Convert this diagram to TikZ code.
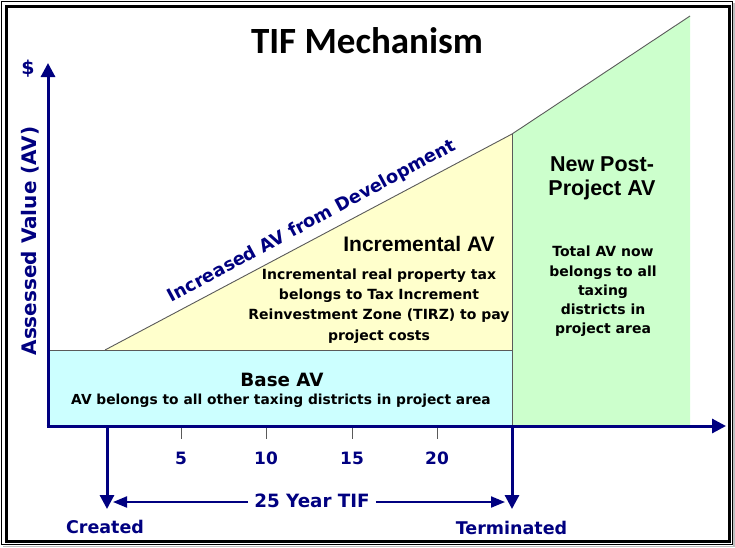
\documentclass[tikz,border=0pt]{standalone}
\usepackage{fontspec}
\setmainfont{DejaVu Sans}
\newfontfamily\arifont{Liberation Sans}
\newfontfamily\calfont{Carlito}
\usetikzlibrary{arrows.meta}
\definecolor{navyc}{RGB}{0,0,128}
\definecolor{basec}{RGB}{204,255,255}
\definecolor{incc}{RGB}{255,255,204}
\definecolor{newc}{RGB}{204,255,204}
\definecolor{edgec}{RGB}{90,90,90}
\newcommand{\fsz}[2]{\fontsize{#1}{#2}\selectfont}
\begin{document}
\begin{tikzpicture}[x=1pt,y=-1pt,
  axis/.style={draw=navyc, line width=3pt},
  bigtip/.style={-{Triangle[width=14pt,length=14pt]}},
  smalltip/.style={-{Triangle[width=11pt,length=14pt]}},
  edge/.style={draw=edgec, line width=0.9pt},
  tick/.style={draw=edgec, line width=1pt},
  navytext/.style={text=navyc, font=\bfseries\fsz{17.5}{20}, inner sep=0pt},
  numtext/.style={text=navyc, font=\bfseries\fsz{17}{18}, inner sep=0pt, anchor=base},
  regtitle/.style={text=black, font=\arifont\bfseries\fsz{21}{24}, inner sep=0pt, align=center},
  regbody/.style={text=black, font=\bfseries\fsz{14}{20.2}, inner sep=0pt, align=center},
]
\useasboundingbox (0,0) rectangle (735,547);
% frame
\fill[white] (0,0) rectangle (735,547);
\fill[black!25] (733,3) rectangle (735,547);
\fill[black!25] (3,545.5) rectangle (735,547);
\draw[black, line width=1pt] (1.5,1.5) rectangle (732.5,544.5);
\draw[black, line width=3pt] (6,6) rectangle (729.5,541);

% coordinates
\coordinate (O) at (48,426);
\coordinate (ytop) at (48,63);
\coordinate (xend) at (726,426);
\coordinate (start) at (105,350);
\coordinate (term) at (512,134);
\coordinate (peak) at (690,16);
\coordinate (cr0) at (107,426);
\coordinate (cr1) at (107,509);
\coordinate (te0) at (512,426);
\coordinate (te1) at (512,509);
\coordinate (la) at (113,502);
\coordinate (ra) at (505,502);

% regions
\fill[basec] (48,350) rectangle (512,426);
\fill[incc] (start) -- (term) -- (512,350) -- cycle;
\fill[newc] (term) -- (peak) -- (690,426) -- (te0) -- cycle;
\draw[edge] (48,350) -- (512,350);
\draw[edge] (term) -- (te0);
\draw[edge] (start) -- (term) -- (peak);

% ticks
\foreach \x/\n in {181/5,266/10,352/15,437/20}{
  \draw[tick] (\x,426) -- (\x,439);
  \node[numtext] (n\n) at (\x,464) {\n};
}

% axes
\draw[axis, bigtip] (48,427.5) -- (ytop);
\draw[axis, bigtip] (46.5,426) -- (xend);
\draw[axis, bigtip] (cr0) -- (cr1);
\draw[axis, bigtip] (te0) -- (te1);

% texts
\node[font=\calfont\bfseries\fsz{37}{40}, inner sep=0pt, anchor=base] (title) at (367,53.3) {TIF Mechanism};
\node[navytext, font=\bfseries\fsz{19}{20}] (dollar) at (28,68.5) {\$};
\node[navytext, font=\bfseries\fsz{20}{22}, rotate=90, anchor=base] (yl) at (36,241) {Assessed Value (AV)};
\node[text=navyc, font=\bfseries\fsz{17.8}{22}, inner sep=0pt, rotate=28.3] (slant) at (312,221.5) {Increased AV from Development};

\node[regtitle] (inctitle) at (419,244) {Incremental AV};
\node[regbody] (incbody) at (379,306) {Incremental real property tax\\belongs to Tax Increment\\Reinvestment Zone (TIRZ) to pay\\project costs};
\node[regtitle, font=\arifont\bfseries\fsz{21.5}{24}] (newtitle) at (602,178.5) {New Post-\\Project AV};
\node[regbody, font=\bfseries\fsz{14}{19.25}] (newbody) at (603,291.5) {Total AV now\\belongs to all\\taxing\\districts in\\project area};
\node[font=\bfseries\fsz{18.3}{20}, inner sep=0pt, anchor=base] (basetitle) at (282,386) {Base AV};
\node[font=\bfseries\fsz{13.8}{16}, inner sep=0pt, anchor=base] (basebody) at (281,404.7) {AV belongs to all other taxing districts in project area};

\node[navytext, anchor=base, font=\bfseries\fsz{18.3}{20}, inner sep=0pt] (tif) at (312,507) {25 Year TIF};
\draw[navyc, line width=2pt, smalltip] ([xshift=-6pt]tif.west |- la) -- (la);
\draw[navyc, line width=2pt, smalltip] ([xshift=6pt]tif.east |- ra) -- (ra);
\node[navytext, anchor=base] (created) at (105,533) {Created};
\node[navytext, anchor=base] (terminated) at (511.5,534) {Terminated};
\end{tikzpicture}
\end{document}
